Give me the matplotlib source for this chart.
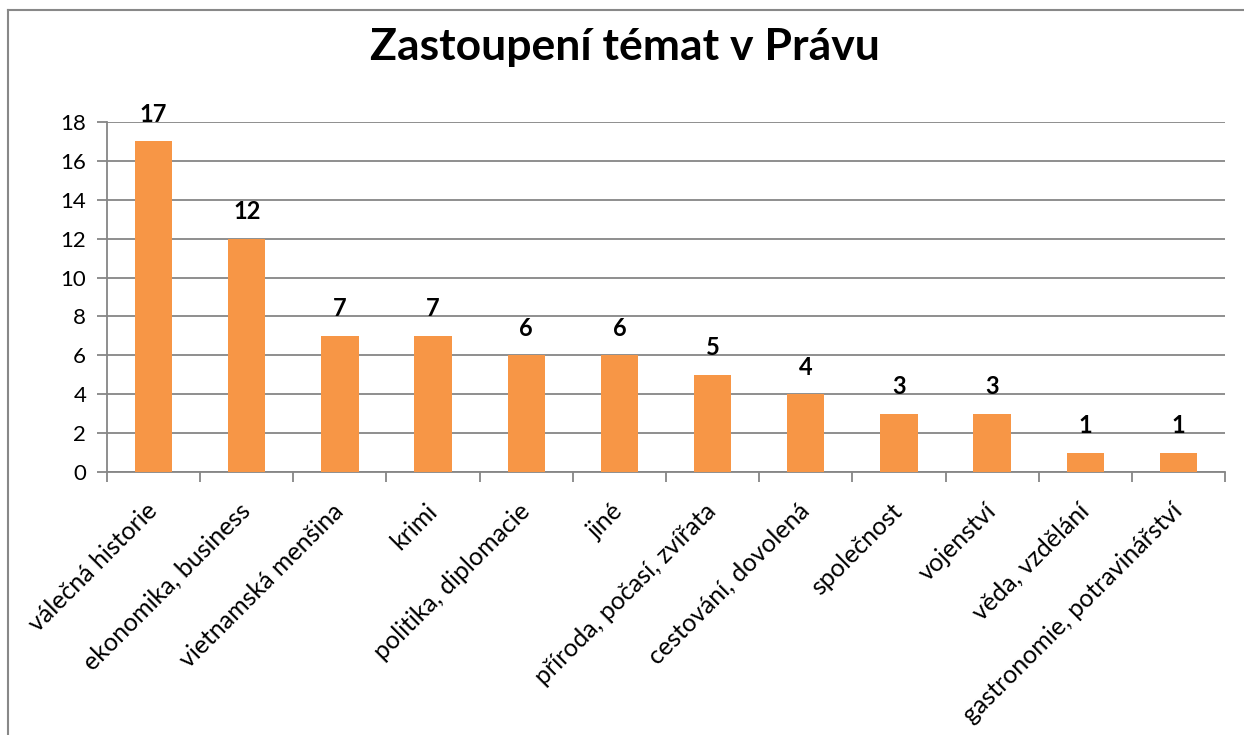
import matplotlib
matplotlib.use("Agg")
import matplotlib.pyplot as plt
from matplotlib.lines import Line2D

plt.rcParams['font.family'] = ['Lato', 'DejaVu Sans']

categories = ["válečná historie", "ekonomika, business", "vietnamská menšina", "krimi",
              "politika, diplomacie", "jiné", "příroda, počasí, zvířata", "cestování, dovolená",
              "společnost", "vojenství", "věda, vzdělání", "gastronomie, potravinářství"]
values = [17, 12, 7, 7, 6, 6, 5, 4, 3, 3, 1, 1]
yticks = [0, 2, 4, 6, 8, 10, 12, 14, 16, 18]
title = "Zastoupení témat v Právu"

W, H = 1244, 735
fig = plt.figure(figsize=(W/100, H/100), dpi=100)
ax = fig.add_axes([107/W, 1-472/H, (1225-107)/W, (472-122)/H])

grid_c = '#868686'
bar_c = '#F79646'
x = list(range(len(categories)))
ax.bar(x, values, width=0.4, color=bar_c, zorder=3)
ax.set_xlim(-0.5, len(categories)-0.5)
ax.set_ylim(0, 18)
ax.set_yticks(yticks)
ax.set_yticklabels([str(v) for v in yticks], fontsize=16)
ax.yaxis.grid(True, color=grid_c, linewidth=1.3, zorder=0)
ax.set_axisbelow(True)

for s in ['top', 'right']:
    ax.spines[s].set_visible(False)
for s in ['left', 'bottom']:
    ax.spines[s].set_color(grid_c)
    ax.spines[s].set_linewidth(1.3)

ax.set_xticks([i + 0.5 for i in range(-1, len(categories))])
ax.set_xticklabels([])
ax.tick_params(axis='x', length=7, color=grid_c, width=1.3)
ax.tick_params(axis='y', length=7, color=grid_c, width=1.3, pad=8)

for i, (c, v) in enumerate(zip(categories, values)):
    ax.text(i - 0.09, -1.4, c, rotation=45, ha='right', va='top',
            rotation_mode='anchor', fontsize=18, transform=ax.transData)
    ax.annotate(str(v), (i, v), xytext=(0, 14), textcoords='offset points',
                ha='center', va='baseline', fontsize=17, fontweight='bold')

fig.text(625/W, 1-47/H, title, ha='center', va='center', fontsize=32, fontweight='bold')

fig.add_artist(Line2D([8/W, 8/W], [0, 1-10/H], transform=fig.transFigure, color='#888888', lw=1.5))
fig.add_artist(Line2D([8/W, 1], [1-10/H, 1-10/H], transform=fig.transFigure, color='#888888', lw=1.5))

fig.savefig('out.png', dpi=100)
